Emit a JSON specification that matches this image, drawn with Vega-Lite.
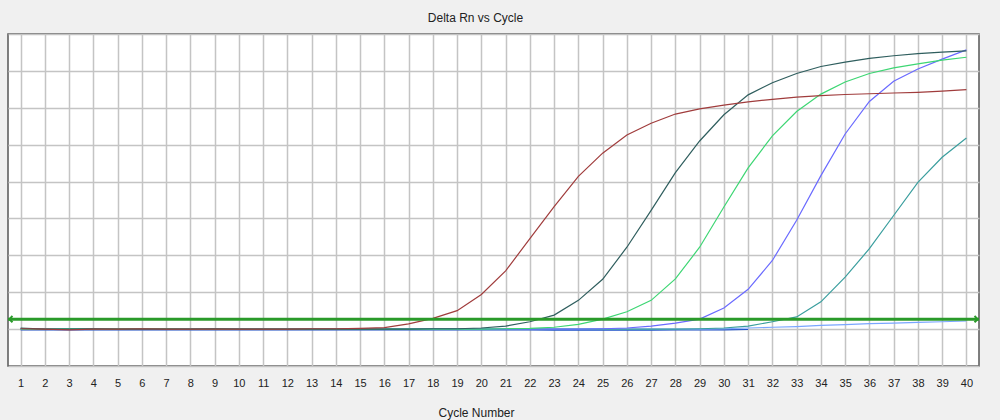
{
  "$schema": "https://vega.github.io/schema/vega-lite/v6.json",
  "autosize": "none",
  "width": 971,
  "height": 332,
  "padding": {"left": 8, "top": 34, "right": 21, "bottom": 54},
  "background": "#F0F0F0",
  "config": {
    "view": {"fill": "white", "stroke": "#555555", "strokeWidth": 1.5},
    "font": "Liberation Sans"
  },
  "title": {
    "text": "Delta Rn vs Cycle",
    "fontSize": 12,
    "fontWeight": "normal",
    "color": "#222222",
    "anchor": "middle",
    "dx": -18,
    "offset": 9
  },
  "layer": [
    {
      "data": {
        "values": [
          {"c": 1, "R": 0.01, "D": 0.03, "G": 0, "B": 0, "T": 0.01, "L": 0, "N": -0.02},
          {"c": 2, "R": 0, "D": 0, "G": 0, "B": 0, "T": 0, "L": 0.01, "N": -0.02},
          {"c": 3, "R": -0.02, "D": 0, "G": 0.01, "B": 0, "T": 0, "L": 0, "N": -0.02},
          {"c": 4, "R": 0, "D": 0.01, "G": 0, "B": 0, "T": 0, "L": 0.01, "N": -0.02},
          {"c": 5, "R": 0, "D": 0, "G": 0, "B": -0.01, "T": 0, "L": 0, "N": -0.02},
          {"c": 6, "R": 0.01, "D": 0, "G": 0.01, "B": 0, "T": 0, "L": 0, "N": -0.02},
          {"c": 7, "R": 0, "D": 0, "G": 0.01, "B": 0, "T": 0, "L": 0, "N": -0.02},
          {"c": 8, "R": 0, "D": 0, "G": 0, "B": 0, "T": 0, "L": 0.01, "N": -0.02},
          {"c": 9, "R": 0, "D": 0.01, "G": 0, "B": 0, "T": 0, "L": 0, "N": -0.02},
          {"c": 10, "R": 0, "D": 0, "G": 0, "B": 0, "T": 0, "L": 0.01, "N": -0.02},
          {"c": 11, "R": 0, "D": 0, "G": 0, "B": 0, "T": 0, "L": 0, "N": -0.02},
          {"c": 12, "R": 0, "D": 0, "G": 0, "B": 0, "T": 0, "L": 0, "N": -0.02},
          {"c": 13, "R": 0.01, "D": 0, "G": 0, "B": 0, "T": 0, "L": 0, "N": -0.02},
          {"c": 14, "R": 0.01, "D": 0, "G": 0, "B": 0, "T": 0, "L": 0, "N": -0.02},
          {"c": 15, "R": 0.02, "D": 0, "G": 0, "B": 0, "T": 0, "L": 0, "N": -0.02},
          {"c": 16, "R": 0.04, "D": 0, "G": 0, "B": 0, "T": 0, "L": 0, "N": -0.02},
          {"c": 17, "R": 0.14, "D": 0, "G": 0, "B": 0, "T": 0, "L": 0, "N": -0.02},
          {"c": 18, "R": 0.29, "D": 0.01, "G": 0, "B": 0, "T": 0, "L": 0, "N": -0.02},
          {"c": 19, "R": 0.5, "D": 0.01, "G": 0, "B": 0, "T": 0, "L": 0, "N": -0.02},
          {"c": 20, "R": 0.94, "D": 0.03, "G": 0, "B": 0, "T": 0, "L": 0, "N": -0.02},
          {"c": 21, "R": 1.58, "D": 0.08, "G": 0.01, "B": 0, "T": 0, "L": 0, "N": -0.02},
          {"c": 22, "R": 2.45, "D": 0.2, "G": 0.02, "B": 0, "T": 0, "L": 0, "N": -0.02},
          {"c": 23, "R": 3.32, "D": 0.38, "G": 0.05, "B": 0, "T": 0, "L": 0, "N": -0.03},
          {"c": 24, "R": 4.14, "D": 0.78, "G": 0.13, "B": 0, "T": 0, "L": 0, "N": -0.03},
          {"c": 25, "R": 4.77, "D": 1.35, "G": 0.27, "B": 0.01, "T": 0, "L": 0, "N": -0.03},
          {"c": 26, "R": 5.26, "D": 2.22, "G": 0.47, "B": 0.03, "T": 0, "L": 0, "N": -0.03},
          {"c": 27, "R": 5.58, "D": 3.22, "G": 0.78, "B": 0.08, "T": 0, "L": 0, "N": -0.03},
          {"c": 28, "R": 5.83, "D": 4.24, "G": 1.36, "B": 0.16, "T": 0, "L": 0, "N": -0.02},
          {"c": 29, "R": 5.97, "D": 5.1, "G": 2.22, "B": 0.27, "T": 0.01, "L": 0, "N": -0.02},
          {"c": 30, "R": 6.07, "D": 5.81, "G": 3.31, "B": 0.57, "T": 0.03, "L": 0.01, "N": -0.02},
          {"c": 31, "R": 6.16, "D": 6.35, "G": 4.37, "B": 1.08, "T": 0.08, "L": 0.03, "N": -0.01},
          {"c": 32, "R": 6.23, "D": 6.68, "G": 5.24, "B": 1.86, "T": 0.2, "L": 0.05},
          {"c": 33, "R": 6.29, "D": 6.93, "G": 5.9, "B": 2.95, "T": 0.33, "L": 0.07},
          {"c": 34, "R": 6.33, "D": 7.12, "G": 6.37, "B": 4.16, "T": 0.74, "L": 0.1},
          {"c": 35, "R": 6.36, "D": 7.24, "G": 6.7, "B": 5.29, "T": 1.41, "L": 0.12},
          {"c": 36, "R": 6.38, "D": 7.34, "G": 6.93, "B": 6.17, "T": 2.18, "L": 0.15},
          {"c": 37, "R": 6.4, "D": 7.41, "G": 7.08, "B": 6.72, "T": 3.08, "L": 0.16},
          {"c": 38, "R": 6.42, "D": 7.47, "G": 7.19, "B": 7.05, "T": 3.98, "L": 0.18},
          {"c": 39, "R": 6.45, "D": 7.51, "G": 7.29, "B": 7.32, "T": 4.66, "L": 0.2},
          {"c": 40, "R": 6.49, "D": 7.54, "G": 7.37, "B": 7.57, "T": 5.18, "L": 0.22}
        ]
      },
      "transform": [{"fold": ["N", "L", "T", "B", "G", "D", "R"], "as": ["s", "v"]}],
      "mark": {"type": "line", "strokeWidth": 1.2, "clip": true},
      "encoding": {
        "x": {
          "field": "c",
          "type": "quantitative",
          "scale": {"domain": [0.48, 40.52], "nice": false, "zero": false},
          "axis": {
            "values": [1,2,3,4,5,6,7,8,9,10,11,12,13,14,15,16,17,18,19,20,21,22,23,24,25,26,27,28,29,30,31,32,33,34,35,36,37,38,39,40],
            "tickCount": 100,
            "format": "d",
            "title": "Cycle Number",
            "labelFontSize": 11,
            "labelColor": "#222222",
            "labelPadding": 11,
            "labelFlush": false,
            "labelOverlap": false,
            "ticks": false,
            "domain": false,
            "grid": true,
            "gridColor": "#C4C4C4",
            "gridWidth": 1.5,
            "titleFontSize": 12,
            "titleFontWeight": "normal",
            "titleColor": "#222222",
            "titleX": 468,
            "titleY": 46,
            "titleBaseline": "middle"
          }
        },
        "y": {
          "field": "v",
          "type": "quantitative",
          "scale": {"domain": [-1, 8], "nice": false, "zero": false},
          "axis": {
            "values": [-1, 0, 1, 2, 3, 4, 5, 6, 7, 8],
            "tickCount": 50,
            "labels": false,
            "ticks": false,
            "domain": false,
            "title": null,
            "grid": true,
            "gridColor": "#C4C4C4",
            "gridWidth": 1.5
          }
        },
        "color": {
          "field": "s",
          "type": "nominal",
          "scale": {
            "domain": ["N", "L", "T", "B", "G", "D", "R"],
            "range": ["#2255CC", "#7AA6FF", "#3A9E9E", "#6A6AFF", "#3DD673", "#2F5E5E", "#A03C3C"]
          },
          "legend": null
        }
      }
    },
    {
      "data": {"values": [{"t": 0.27}]},
      "mark": {"type": "rule", "color": "#2A9A2A", "strokeWidth": 3},
      "encoding": {"y": {"field": "t", "type": "quantitative"}}
    },
    {
      "data": {"values": [{"c": 0.6, "t": 0.27, "d": "L"}, {"c": 40.4, "t": 0.27, "d": "R"}]},
      "mark": {"type": "point", "filled": false, "stroke": "#2A9A2A", "strokeWidth": 2, "size": 40, "opacity": 1},
      "encoding": {
        "x": {"field": "c", "type": "quantitative"},
        "y": {"field": "t", "type": "quantitative"},
        "shape": {
          "field": "d",
          "type": "nominal",
          "scale": {"domain": ["L", "R"], "range": ["M0.5,-1L-0.5,0L0.5,1", "M-0.5,-1L0.5,0L-0.5,1"]},
          "legend": null
        }
      }
    }
  ]
}
